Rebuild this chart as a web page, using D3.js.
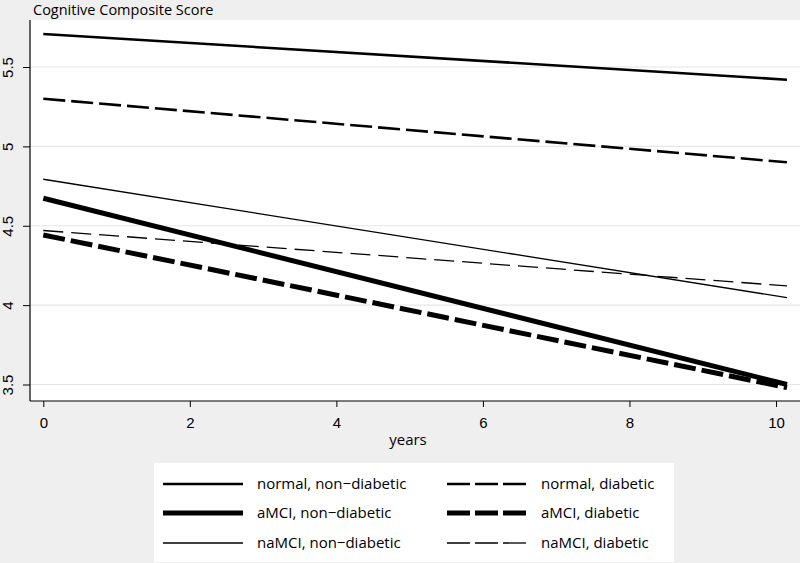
<!DOCTYPE html>
<html><head><meta charset="utf-8">
<script src="https://cdn.jsdelivr.net/npm/d3@7"></script>
<style>body{margin:0;background:#efefef;}svg{display:block;font-family:"Open Sans",sans-serif;}</style>
</head><body><svg id="c" width="800" height="563"></svg>
<script>
const seriesNames = ["normal, non−diabetic","normal, diabetic","aMCI, non−diabetic","aMCI, diabetic","naMCI, non−diabetic","naMCI, diabetic"];
const xStart = [0,0,0,0,0,0];
const xEnd = [10.15,10.15,10.15,10.15,10.15,10.15];
const yStart = [5.708,5.30,4.673,4.442,4.793,4.47];
const yEnd = [5.42,4.90,3.50,3.48,4.047,4.121];
const xTicks = [0,2,4,6,8,10];
const yTicks = [3.5,4,4.5,5,5.5];
const yTickLabels = ["3.5","4","4.5","5","5.5"];
const titleText = "Cognitive Composite Score";
const xLabel = "years";

const widths = [2.6,2.6,5,5,1.3,1.3];
const dashes = [null,"22,6",null,"22,6",null,"20,8"];
const legDashes = [null,"23,5",null,"23,5",null,"23,5"];

const svg = d3.select("#c");
svg.append("rect").attr("width",800).attr("height",563).attr("fill","#efefef");
const plot = {l:30,t:20,r:800,b:401};
svg.append("rect").attr("x",plot.l).attr("y",plot.t).attr("width",plot.r-plot.l).attr("height",plot.b-plot.t).attr("fill","#fff");

const x = d3.scaleLinear().domain([0,10]).range([43.3,776]);
const y = d3.scaleLinear().domain([3.5,5.5]).range([384.5,67]);

// gridlines
svg.append("g").selectAll("line").data(yTicks).join("line")
  .attr("x1",plot.l).attr("x2",plot.r).attr("y1",d=>y(d)).attr("y2",d=>y(d))
  .attr("stroke","#e6e6e6").attr("stroke-width",1.2);

// axes
const yAxis = d3.axisLeft(y).tickValues(yTicks).tickSize(7).tickFormat((d,i)=>yTickLabels[i]);
const gy = svg.append("g").attr("transform",`translate(${plot.l},0)`).call(yAxis);
gy.select(".domain").remove();
gy.selectAll(".tick line").attr("stroke","#000");
gy.selectAll(".tick text").attr("font-size",15).attr("fill","#000")
  .attr("text-anchor","middle").attr("x",0).attr("dy",0).attr("y",0)
  .attr("transform","translate(-17,0) rotate(-90)");
svg.append("line").attr("x1",plot.l).attr("x2",plot.l).attr("y1",plot.t).attr("y2",plot.b).attr("stroke","#000").attr("stroke-width",1.2);

const xAxis = d3.axisBottom(x).tickValues(xTicks).tickSize(6).tickFormat(d3.format("d"));
const gx = svg.append("g").attr("transform",`translate(0,${plot.b})`).call(xAxis);
gx.select(".domain").remove();
gx.selectAll(".tick line").attr("stroke","#000");
gx.selectAll(".tick text").attr("font-size",15).attr("fill","#000").attr("y",16).attr("dy","0.71em");
svg.append("line").attr("x1",plot.l).attr("x2",plot.r).attr("y1",plot.b).attr("y2",plot.b).attr("stroke","#000").attr("stroke-width",1.2);

svg.append("text").attr("x",408).attr("y",445).attr("text-anchor","middle").attr("font-size",15).text(xLabel);
svg.append("text").attr("x",33).attr("y",15).attr("font-size",14.5).text(titleText);

// lines
const lineGen = d3.line().x(d=>x(d[0])).y(d=>y(d[1]));
const lines = seriesNames.map((n,i)=>({name:n,pts:[[xStart[i],yStart[i]],[xEnd[i],yEnd[i]]],w:widths[i],dash:dashes[i]}));
svg.append("g").selectAll("path").data(lines).join("path")
  .attr("d",d=>lineGen(d.pts)).attr("fill","none").attr("stroke","#000")
  .attr("stroke-width",d=>d.w).attr("stroke-dasharray",d=>d.dash);

// legend
const leg = svg.append("g");
leg.append("rect").attr("x",154).attr("y",463).attr("width",520).attr("height",99).attr("fill","#fff");
const rowY = [484,513,543];
const colX = [163,447];
seriesNames.forEach((n,i)=>{
  const col = i%2, row = Math.floor(i/2);
  const lx = colX[col], ly = rowY[row];
  leg.append("line").attr("x1",lx).attr("x2",lx+80).attr("y1",ly).attr("y2",ly)
    .attr("stroke","#000").attr("stroke-width",widths[i]).attr("stroke-dasharray",legDashes[i]);
  leg.append("text").attr("x",lx+94).attr("y",ly+5).attr("font-size",15).text(n);
});
</script></body></html>
